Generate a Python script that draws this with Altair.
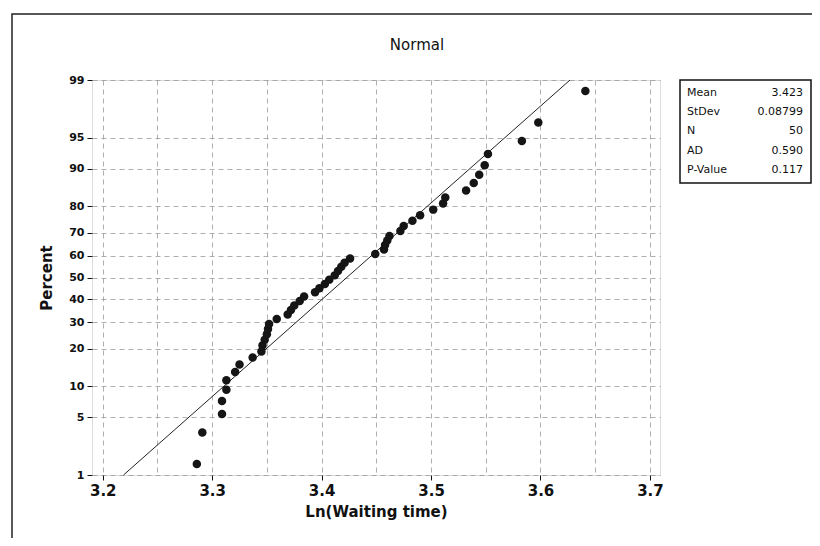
import altair as alt
import pandas as pd
from statistics import NormalDist

# ---- data ----
ln_wait = [3.286, 3.291, 3.309, 3.309, 3.313, 3.313, 3.321, 3.325, 3.337, 3.345,
           3.346, 3.348, 3.350, 3.351, 3.352, 3.359, 3.369, 3.372, 3.375, 3.380,
           3.384, 3.394, 3.398, 3.403, 3.407, 3.412, 3.415, 3.418, 3.421, 3.426,
           3.449, 3.457, 3.458, 3.460, 3.462, 3.472, 3.475, 3.483, 3.490, 3.502,
           3.511, 3.513, 3.532, 3.539, 3.544, 3.549, 3.552, 3.583, 3.598, 3.641]
percent = [1.4, 3.4, 5.4, 7.3, 9.3, 11.3, 13.3, 15.3, 17.3, 19.2,
           21.2, 23.2, 25.2, 27.2, 29.2, 31.2, 33.1, 35.1, 37.1, 39.1,
           41.1, 43.1, 45.0, 47.0, 49.0, 51.0, 53.0, 55.0, 56.9, 58.9,
           60.9, 62.9, 64.9, 66.9, 68.8, 70.8, 72.8, 74.8, 76.8, 78.8,
           80.8, 82.7, 84.7, 86.7, 88.7, 90.7, 92.7, 94.6, 96.6, 98.6]
fit_x = [3.219, 3.627]
fit_pct = [1, 99]
y_ticks = [1, 5, 10, 20, 30, 40, 50, 60, 70, 80, 90, 95, 99]
x_ticks = [3.2, 3.25, 3.3, 3.35, 3.4, 3.45, 3.5, 3.55, 3.6, 3.65, 3.7]
stat_names = ["Mean", "StDev", "N", "AD", "P-Value"]
stat_vals = ["3.423", "0.08799", "50", "0.590", "0.117"]
title_text = ["Normal"]

# probability (normal quantile) scale
nd = NormalDist()
y_tick_z = [nd.inv_cdf(p / 100) for p in y_ticks]
zmin, zmax = nd.inv_cdf(0.01), nd.inv_cdf(0.99)

pts = pd.DataFrame({"x": ln_wait, "pct": percent})
fit = pd.DataFrame({"x": fit_x, "pct": fit_pct})
stats = pd.DataFrame({"name": stat_names, "val": stat_vals, "row": list(range(len(stat_names)))})

FONT = "DejaVu Sans"
xscale = alt.Scale(domain=[3.1902, 3.7092], nice=False, zero=False)
yscale = alt.Scale(domain=[zmin, zmax], nice=False, zero=False)

is_major = "abs(datum.value*10 - round(datum.value*10)) < 0.01"

xaxis = alt.Axis(
    values=x_ticks,
    tickCount=len(x_ticks) + 5,
    labelExpr=f"{is_major} ? format(datum.value, '.1f') : ''",
    title="Ln(Waiting time)",
    titleFont=FONT, titleFontSize=15, titleFontWeight="bold", titleColor="#111",
    titlePadding=6,
    labelFont=FONT, labelFontSize=15, labelFontWeight="bold", labelColor="#111",
    labelPadding=3, labelOverlap=False,
    tickSize=5, tickColor="#111",
    tickOpacity={"condition": {"test": is_major, "value": 1}, "value": 0},
    domain=False,
    grid=True, gridDash=[5, 4], gridColor="#9a9a9a", gridWidth=0.8,
)
yaxis = alt.Axis(
    values=y_tick_z,
    tickCount=len(y_ticks) + 5,
    labelExpr="format(cumulativeNormal(datum.value)*100, '.0f')",
    title="Percent",
    titleFont=FONT, titleFontSize=15, titleFontWeight="bold", titleColor="#111",
    titlePadding=14,
    labelFont=FONT, labelFontSize=11, labelFontWeight="bold", labelColor="#111",
    labelPadding=3, labelOverlap=False,
    tickSize=5, tickColor="#111",
    domain=False,
    grid=True, gridDash=[5, 4], gridColor="#9a9a9a", gridWidth=0.8,
)

points = alt.Chart(pts).transform_calculate(
    z="quantileNormal(datum.pct/100)"
).mark_circle(size=72, color="#151515", opacity=1).encode(
    x=alt.X("x:Q", scale=xscale, axis=xaxis),
    y=alt.Y("z:Q", scale=yscale, axis=yaxis),
)

line = alt.Chart(fit).transform_calculate(
    z="quantileNormal(datum.pct/100)"
).mark_line(color="#222", strokeWidth=1).encode(
    x=alt.X("x:Q", scale=xscale),
    y=alt.Y("z:Q", scale=yscale),
)

# statistics box to the right of the plot
box = alt.Chart(pd.DataFrame({"k": [0]})).mark_rect(
    fill="white", stroke="#111", strokeWidth=1.5
).encode(x=alt.value(588), x2=alt.value(719), y=alt.value(0), y2=alt.value(103))

names = alt.Chart(stats).transform_calculate(ypx="13 + datum.row*19.2").mark_text(
    align="left", baseline="middle", font=FONT, fontSize=11, color="#111"
).encode(x=alt.value(595), y=alt.Y("ypx:Q", scale=None), text="name:N")

vals = alt.Chart(stats).transform_calculate(ypx="13 + datum.row*19.2").mark_text(
    align="right", baseline="middle", font=FONT, fontSize=11, color="#111"
).encode(x=alt.value(711), y=alt.Y("ypx:Q", scale=None), text="val:N")

# chart title, centred over the whole figure
title = alt.Chart(pd.DataFrame({"t": title_text})).mark_text(
    align="center", baseline="middle", font=FONT, fontSize=15, color="#111"
).encode(x=alt.value(325), y=alt.value(-35), text="t:N")

# outer figure frame (left and top edges visible)
frame = alt.Chart(pd.DataFrame({"k": [0]})).mark_rect(
    fill=None, stroke="#222", strokeWidth=1.5
).encode(x=alt.value(-80), x2=alt.value(2000), y=alt.value(-66), y2=alt.value(2000))

chart = alt.layer(frame, line, points, box, names, vals, title).properties(
    width=568,
    height=395,
    autosize=alt.AutoSizeParams(type="none"),
    padding={"left": 84, "top": 72, "right": 152, "bottom": 63},
).configure_view(
    stroke="#111", strokeWidth=1.5
).configure(background="white")

chart.save("out.html", embed_options={"renderer": "svg", "actions": False})
